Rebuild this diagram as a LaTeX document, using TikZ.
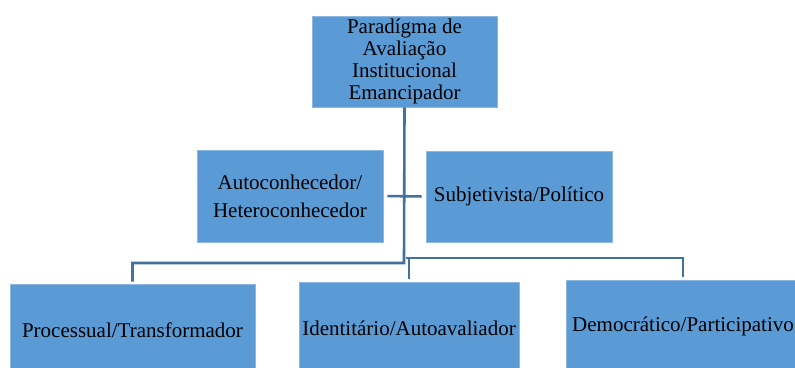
\documentclass[tikz,border=0pt]{standalone}
\usepackage{fontspec}
\setmainfont{Liberation Serif}
\definecolor{boxblue}{HTML}{5B9BD5}
\definecolor{boxedge}{HTML}{8DB8E3}
\definecolor{linkblue}{HTML}{41719C}
\begin{document}
\begin{tikzpicture}[x=1pt,y=-1pt,
  box/.style={rectangle, fill=boxblue, draw=boxedge, line width=0.8pt, align=center, inner sep=0pt,
    font=\fontsize{21}{22}\selectfont},
  conn/.style={draw=linkblue, line width=2.6pt}]
\useasboundingbox (0,0) rectangle (795,367);
\clip (0,0) rectangle (795,367);
\fill[white] (0,0) rectangle (795,367);
\node[box, minimum width=185pt, minimum height=91pt] (top) at (404.5,61.5) {Paradígma de\\Avaliação\\Institucional\\Emancipador};
\node[box, minimum width=186pt, minimum height=92pt, font=\fontsize{21}{28}\selectfont] (auto) at (290,196) {Autoconhecedor/\\Heteroconhecedor};
\node[box, minimum width=186pt, minimum height=91pt] (subj) at (519,196.5) {Subjetivista/Político};
\node[box, minimum width=245pt, minimum height=92pt] (proc) at (132.5,330) {Processual/Transformador};
\node[box, minimum width=220pt, minimum height=92pt] (ident) at (409,328) {Identitário/Autoavaliador};
\node[box, minimum width=234pt, minimum height=92pt] (demo) at (683,326) {Democrático/Participativo};
\coordinate (bus1) at (404,263);
\coordinate (bus2) at (406,258);
\draw[conn, shorten >=2pt] (top.south) -- (bus1) -| (proc.north);
\draw[conn, shorten >=3pt] (bus2) -| (demo.north);
\draw[conn, shorten >=3pt] (ident.north |- bus2) -- (ident.north);
\draw[conn, shorten <=4pt, shorten >=4pt] (auto.east) -- (subj.west);
\end{tikzpicture}
\end{document}
